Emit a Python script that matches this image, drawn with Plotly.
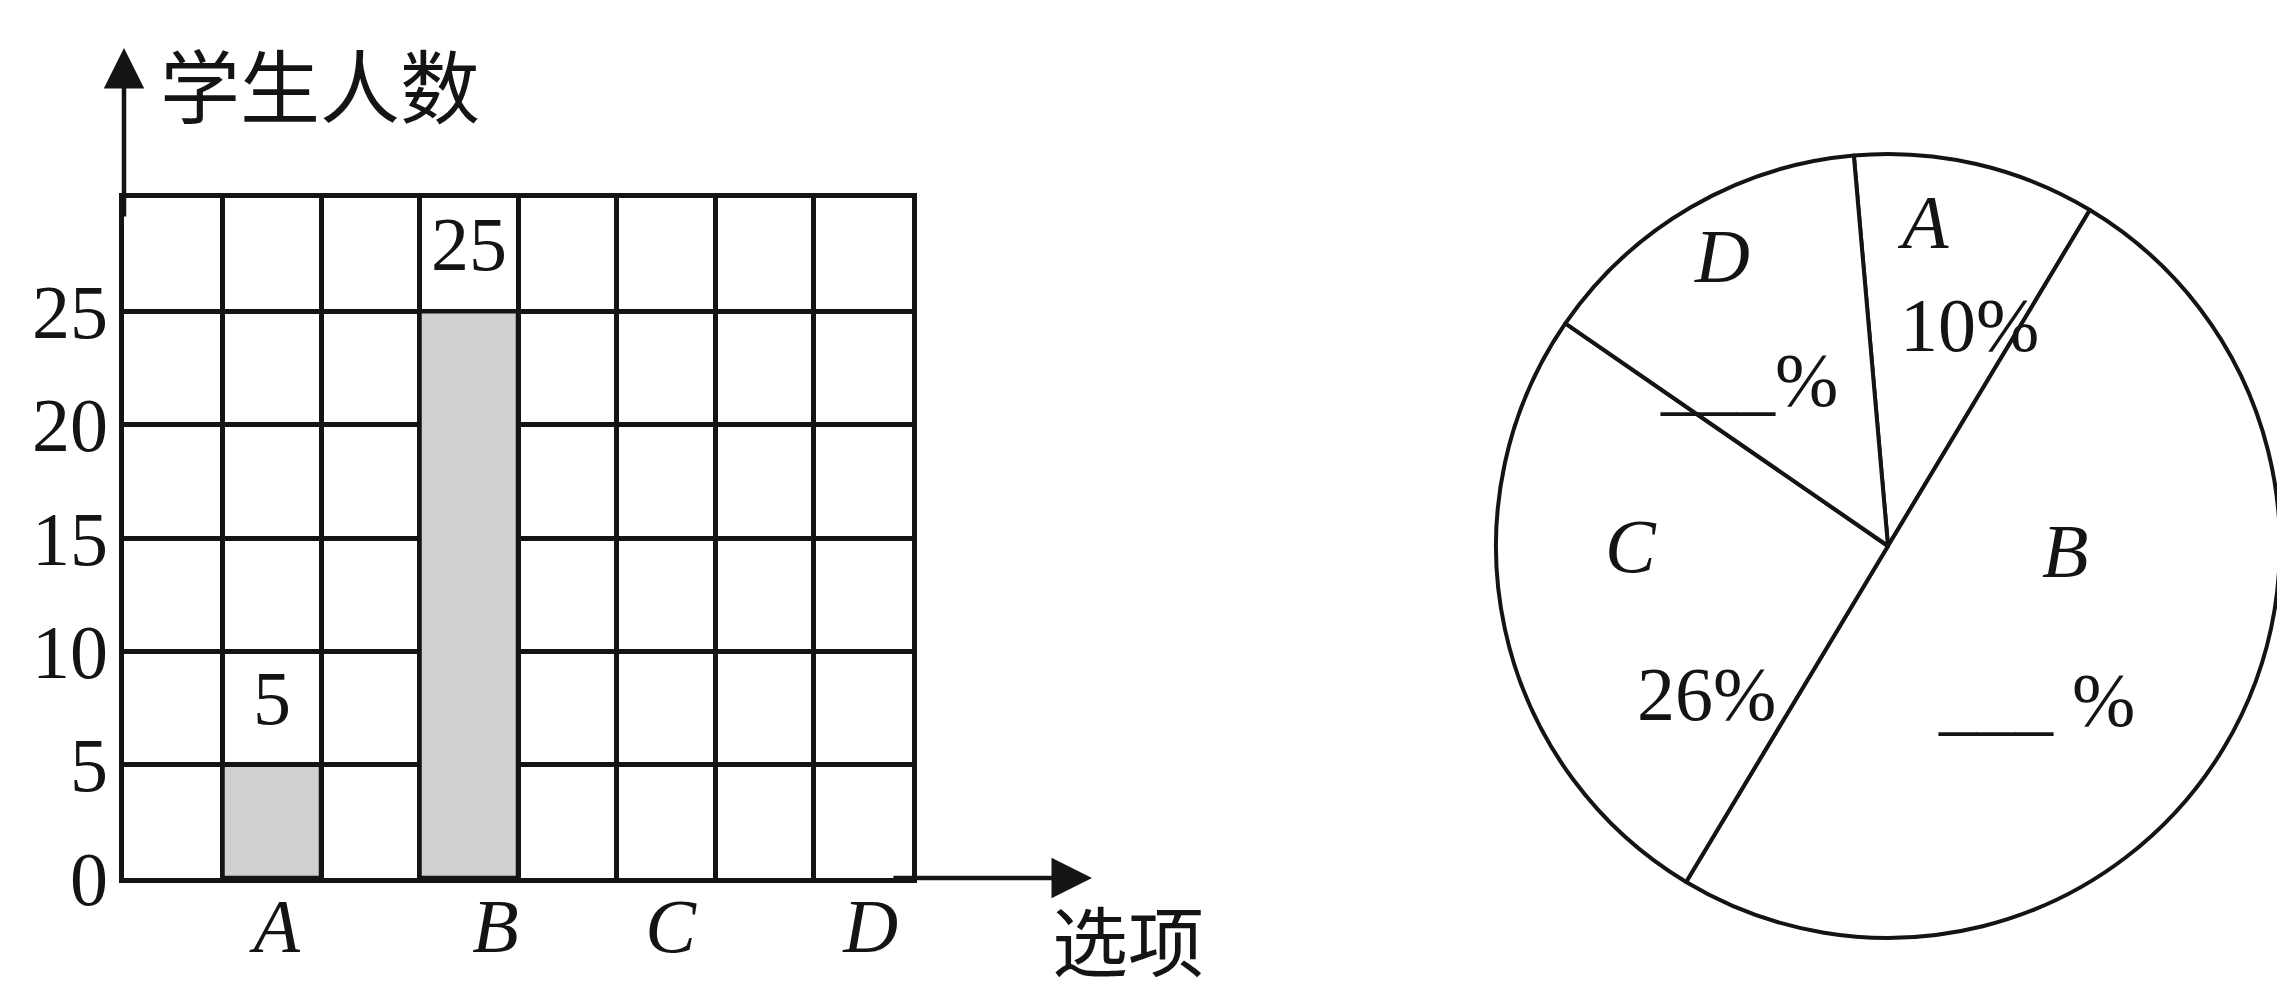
import plotly.graph_objects as go

# ---------------- data ----------------
categories = ["A", "B", "C", "D"]
student_counts = [5, 25, None, None]          # bar chart (C, D left blank in the original)
y_tick_values = [0, 5, 10, 15, 20, 25]
pie_percent = [10, 50, 26, 14]                # A, B, C, D
pie_text = ["10%", "___ %", "26%", "___%"]      # as printed (B, D are blanks)

# ---------------- layout helpers ----------------
W, H = 2285, 984
OFF = 8   # page body margin shifts the figure by this many pixels

def px(x):
    return (x - OFF) / W
def py(y):
    return 1 - (y - OFF) / H

SERIF = "Liberation Serif"
CJK = "Noto Sans CJK SC"
INK = "#141414"
LW = 4.5

bar_x = [1.5, 3.5, 5.5, 7.5]                 # centres of grid columns for A..D
label_x = [1.55, 3.77, 5.55, 7.58]            # where the letters sit under the axis

fig = go.Figure()

fig.add_trace(go.Bar(
    x=bar_x, y=student_counts, width=1,
    marker=dict(color="#d0d0d0", line=dict(color=INK, width=LW)),
    hoverinfo="skip", showlegend=False, xaxis="x", yaxis="y",
))

fig.add_trace(go.Pie(
    labels=categories, values=pie_percent, sort=False, direction="clockwise",
    rotation=-5, textinfo="none", hoverinfo="skip", showlegend=False,
    marker=dict(colors=["white"] * 4, line=dict(color=INK, width=4)),
    domain=dict(x=[px(1496), px(2280)], y=[py(938), py(154)]),
))

fig.update_layout(
    width=W, height=H, margin=dict(l=0, r=0, t=0, b=0, autoexpand=False),
    paper_bgcolor="white", plot_bgcolor="white",
    xaxis=dict(
        domain=[px(124), px(912)], range=[0, 8], fixedrange=True, automargin=False,
        tickmode="array", tickvals=label_x,
        ticktext=[f"<i>{c}</i>" for c in categories],
        tickfont=dict(family=SERIF, size=76, color=INK),
        ticks="", showgrid=False, zeroline=False,
        showline=True, linecolor=INK, linewidth=LW, mirror=True,
        ticklabelstandoff=-22,
        minor=dict(tickmode="array", tickvals=list(range(1, 8)), showgrid=True,
                   gridcolor=INK, gridwidth=LW, ticks=""),
    ),
    yaxis=dict(
        domain=[py(878), py(198)], range=[0, 30], fixedrange=True, automargin=False,
        tickmode="array", tickvals=y_tick_values,
        ticktext=[str(v) for v in y_tick_values],
        tickfont=dict(family=SERIF, size=76, color=INK),
        ticks="", showgrid=True, gridcolor=INK, gridwidth=LW, zeroline=False,
        showline=True, linecolor=INK, linewidth=LW, mirror=True,
        ticklabelstandoff=-4,
    ),
)

ann = []
# value labels above bars
for xv, v in zip(bar_x, student_counts):
    if v is not None:
        ann.append(dict(x=xv, y=v, xref="x", yref="y", text=str(v), showarrow=False,
                        xanchor="center", yanchor="middle", yshift=67,
                        font=dict(family=SERIF, size=76, color=INK)))
# axis arrows
ann.append(dict(x=px(1092), y=py(878), xref="paper", yref="paper", text="",
                showarrow=True, ax=-200, ay=0, arrowhead=2, arrowsize=1.8,
                arrowwidth=LW, arrowcolor=INK))
ann.append(dict(x=px(124), y=py(48), xref="paper", yref="paper", text="",
                showarrow=True, ax=0, ay=170, arrowhead=2, arrowsize=1.8,
                arrowwidth=LW, arrowcolor=INK))
# axis titles
ann.append(dict(x=px(320), y=py(82), xref="paper", yref="paper", text="学生人数",
                xanchor="center", yanchor="middle",
                showarrow=False, font=dict(family=CJK, size=80, color=INK)))
ann.append(dict(x=px(1128), y=py(938), xref="paper", yref="paper", text="选项",
                xanchor="center", yanchor="middle",
                showarrow=False, font=dict(family=CJK, size=76, color=INK)))

# pie labels
pie_letter_pos = [(1923, 222), (2065, 551), (1631, 546), (1722, 256)]
pie_text_pos = [(1969, 325), (2036, 700), (1706, 694), (1749, 380)]
for c, (lx, ly) in zip(categories, pie_letter_pos):
    ann.append(dict(x=px(lx), y=py(ly), xref="paper", yref="paper", text=f"<i>{c}</i>",
                    xanchor="center", yanchor="middle",
                    showarrow=False, font=dict(family=SERIF, size=76, color=INK)))
for t, (lx, ly) in zip(pie_text, pie_text_pos):
    ann.append(dict(x=px(lx), y=py(ly), xref="paper", yref="paper", text=t,
                    xanchor="center", yanchor="middle",
                    showarrow=False, font=dict(family=SERIF, size=76, color=INK)))

fig.update_layout(annotations=ann)
fig.write_html("out.html")
